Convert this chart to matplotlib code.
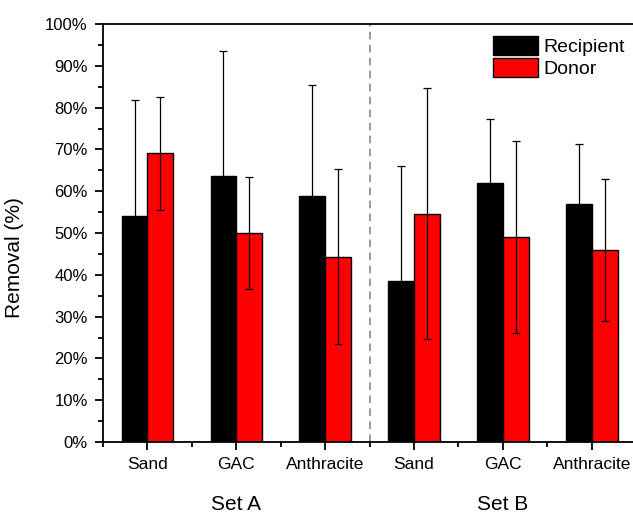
import numpy as np
import matplotlib.pyplot as plt
import matplotlib.transforms as mtransforms
from matplotlib.ticker import MultipleLocator, PercentFormatter

plt.rcParams['font.family'] = ['Liberation Sans', 'DejaVu Sans']

media = ['Sand', 'GAC', 'Anthracite']
sets = ['Set A', 'Set B']

# removal (%), Set A then Set B
recipient = [54.1, 63.7, 58.8, 38.4, 62.0, 57.0]
recipient_err = [27.7, 29.9, 26.6, 27.7, 15.3, 14.3]
donor = [69.1, 49.9, 44.3, 54.6, 49.1, 46.0]
donor_err = [13.5, 13.4, 20.9, 30.0, 23.0, 17.0]

x = np.arange(1, len(recipient) + 1)
w = 0.29

fig = plt.figure(figsize=(6.33, 5.15), dpi=100)
W, H = 633, 515
ax = fig.add_axes([103 / W, (H - 442) / H, (636.2 - 103) / W, (442 - 24) / H])

ekw = dict(ecolor='black', elinewidth=0.9, capsize=3.2, capthick=0.9)
ax.bar(x - w / 2, recipient, w, yerr=recipient_err, color='black',
       edgecolor='black', linewidth=1, label='Recipient', error_kw=ekw)
ax.bar(x + w / 2, donor, w, yerr=donor_err, color='#ff0000',
       edgecolor='black', linewidth=1, label='Donor', error_kw=ekw)

ax.axvline(3.5, color='#808080', linestyle=(0, (5, 3.5)), linewidth=1.1)

ax.set_xlim(0.5, 6.5)
ax.set_ylim(0, 100)
ax.set_xticks(x)
ax.set_xticklabels(media * 2)
ax.xaxis.set_minor_locator(MultipleLocator(1, offset=0.5))
ax.yaxis.set_major_locator(MultipleLocator(10))
ax.yaxis.set_minor_locator(MultipleLocator(5))
ax.yaxis.set_major_formatter(PercentFormatter(decimals=0))

for s in ax.spines.values():
    s.set_linewidth(1.3)
ax.spines['right'].set_visible(False)
ax.tick_params(which='major', direction='out', length=6, width=1.3, labelsize=12)
ax.tick_params(which='minor', direction='out', length=3.5, width=1.3)
ax.tick_params(axis='y', pad=5)
ax.tick_params(axis='x', pad=5, labelsize=12.5)

ax.set_ylabel('Removal (%)', fontsize=15)
ax.yaxis.set_label_coords(24 / W, 0.5, transform=fig.transFigure)

trans = mtransforms.blended_transform_factory(ax.transData, fig.transFigure)
for i, name in enumerate(sets):
    fig.text(2 + 3 * i, (H - 505) / H, name, transform=trans, ha='center',
             va='center', fontsize=15)

ax.legend(loc='upper left', bbox_to_anchor=(493 / W, 1 - 36 / H),
          bbox_transform=fig.transFigure, frameon=False, fontsize=14,
          borderpad=0, borderaxespad=0, handlelength=2.3, handleheight=1.1,
          labelspacing=0.12, handletextpad=0.3)

fig.savefig('out.png', dpi=100)
